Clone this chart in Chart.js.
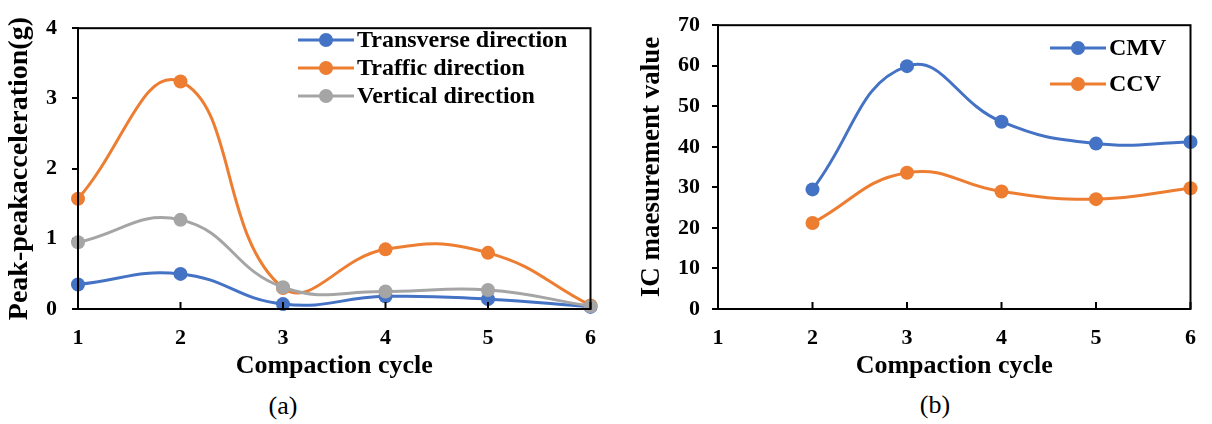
<!DOCTYPE html>
<html lang="en">
<head>
  <meta charset="UTF-8" />
  <title>Compaction cycle results</title>
  <script src="https://cdn.jsdelivr.net/npm/chart.js"></script>
  <style>
    body { margin: 0; background: #fff; width: 1212px; height: 424px; position: relative; overflow: hidden; }
    canvas { position: absolute; top: 0; }
    .cap { position: absolute; font: 26px "Liberation Serif", "Times New Roman", serif; color: #000; transform: translate(-50%, -50%); }
  </style>
</head>
<body>
  <canvas id="accChart" width="612" height="382" style="left:0"></canvas>
  <canvas id="icChart" width="600" height="382" style="left:612px"></canvas>
  <div class="cap" style="left:283px; top:406px">(a)</div>
  <div class="cap" style="left:935px; top:405px">(b)</div>

  <script>
    // compaction cycles shared by both panels
    const cycles = [1, 2, 3, 4, 5, 6];

    // (a) peak-peak acceleration, g
    const transverse = [0.35, 0.50, 0.07, 0.18, 0.14, 0.03];
    const traffic = [1.57, 3.24, 0.30, 0.85, 0.80, 0.05];
    const vertical = [0.95, 1.27, 0.31, 0.25, 0.27, 0.04];
    const accTicks = [0, 1, 2, 3, 4];

    // (b) IC measurement values (no reading for cycle 1)
    const cmv = [null, 29.5, 59.9, 46.2, 40.8, 41.2];
    const ccv = [null, 21.2, 33.6, 29.0, 27.1, 29.8];
    const icTicks = [0, 10, 20, 30, 40, 50, 60, 70];

    const BLUE = '#4472C4', ORANGE = '#ED7D31', GRAY = '#A5A5A5';
    const SERIF = '"Liberation Serif", "Times New Roman", serif';

    Chart.defaults.font.family = SERIF;
    Chart.defaults.color = '#000';

    // closes the box round the plot and puts the x tick marks on the inside
    const frame = {
      id: 'frame',
      afterDraw(chart) {
        const { ctx, chartArea: a, scales: { x } } = chart;
        ctx.save();
        ctx.strokeStyle = '#000';
        ctx.lineWidth = 2;
        ctx.strokeRect(a.left, a.top, a.right - a.left, a.bottom - a.top);
        ctx.beginPath();
        x.ticks.forEach(t => {
          const px = x.getPixelForValue(t.value);
          ctx.moveTo(px, a.bottom);
          ctx.lineTo(px, a.bottom - 7);
        });
        ctx.stroke();
        ctx.restore();
      }
    };

    // line-and-marker legend drawn inside the plot
    const markerLegend = {
      id: 'markerLegend',
      afterDraw(chart, args, opts) {
        const { ctx } = chart;
        ctx.save();
        ctx.font = 'bold ' + opts.size + 'px ' + SERIF;
        ctx.textBaseline = 'middle';
        chart.data.datasets.forEach((ds, i) => {
          const y = opts.y + i * opts.dy;
          ctx.strokeStyle = ds.borderColor;
          ctx.lineWidth = 3;
          ctx.beginPath();
          ctx.moveTo(opts.x, y);
          ctx.lineTo(opts.x + opts.len, y);
          ctx.stroke();
          ctx.fillStyle = ds.borderColor;
          ctx.beginPath();
          ctx.arc(opts.x + opts.len / 2, y, 7, 0, Math.PI * 2);
          ctx.fill();
          ctx.fillStyle = '#000';
          ctx.fillText(ds.label, opts.x + opts.len + 3, y + 1);
        });
        ctx.restore();
      }
    };

    function series(label, values, color, order) {
      return {
        label,
        data: cycles.map((c, i) => ({ x: c, y: values[i] })),
        borderColor: color,
        backgroundColor: color,
        borderWidth: 3,
        pointRadius: 7,
        pointBorderWidth: 0,
        tension: 0.45,
        clip: false,
        order
      };
    }

    function options(cfg) {
      return {
        responsive: false,
        devicePixelRatio: 1,
        animation: false,
        layout: { padding: { left: cfg.padLeft, top: cfg.top, right: cfg.padRight, bottom: 0 } },
        plugins: {
          legend: { display: false },
          tooltip: { enabled: false },
          markerLegend: cfg.legend
        },
        scales: {
          x: {
            type: 'linear',
            min: 1, max: 6,
            afterFit: s => { s.height = 382 - 309; },
            afterBuildTicks: s => { s.ticks = cycles.map(v => ({ value: v })); },
            grid: { display: false, drawTicks: false },
            border: { display: true, color: '#000', width: 2 },
            ticks: { padding: 16, font: { size: 22, weight: 'bold' } },
            title: { display: true, text: 'Compaction cycle', padding: 0, font: { size: 26, weight: 'bold', lineHeight: 1.2 } }
          },
          y: {
            min: cfg.ticks[0], max: cfg.ticks[cfg.ticks.length - 1],
            afterFit: s => { s.width = cfg.yWidth; },
            afterBuildTicks: s => { s.ticks = cfg.ticks.map(v => ({ value: v })); },
            grid: { drawOnChartArea: false, drawTicks: true, tickLength: 6, color: '#000', lineWidth: 2 },
            border: { display: true, color: '#000', width: 2 },
            ticks: { padding: cfg.tickPad, font: { size: 22, weight: 'bold' } },
            title: { display: true, text: cfg.yTitle, padding: { top: cfg.titlePad, bottom: 0 }, font: { size: cfg.titleSize, weight: 'bold', lineHeight: 1.2 } }
          }
        }
      };
    }

    new Chart(document.getElementById('accChart'), {
      type: 'line',
      data: {
        datasets: [
          series('Transverse direction', transverse, BLUE, 3),
          series('Traffic direction', traffic, ORANGE, 2),
          series('Vertical direction', vertical, GRAY, 1)
        ]
      },
      options: options({
        padLeft: 0, padRight: 14, top: 15, yWidth: 78, tickPad: 15, titlePad: 3, titleSize: 28,
        ticks: accTicks, yTitle: 'Peak-peakacceleration(g)',
        legend: { x: 298, y: 40, dy: 28, len: 56, size: 24 }
      }),
      plugins: [frame, markerLegend]
    });

    new Chart(document.getElementById('icChart'), {
      type: 'line',
      data: {
        datasets: [
          series('CMV', cmv, BLUE, 2),
          series('CCV', ccv, ORANGE, 1)
        ]
      },
      options: options({
        padLeft: 24, padRight: 10, top: 25, yWidth: 82, tickPad: 12, titlePad: 0, titleSize: 27,
        ticks: icTicks, yTitle: 'IC maesurement value',
        legend: { x: 438, y: 48, dy: 36, len: 56, size: 24 }
      }),
      plugins: [frame, markerLegend]
    });
  </script>
</body>
</html>
